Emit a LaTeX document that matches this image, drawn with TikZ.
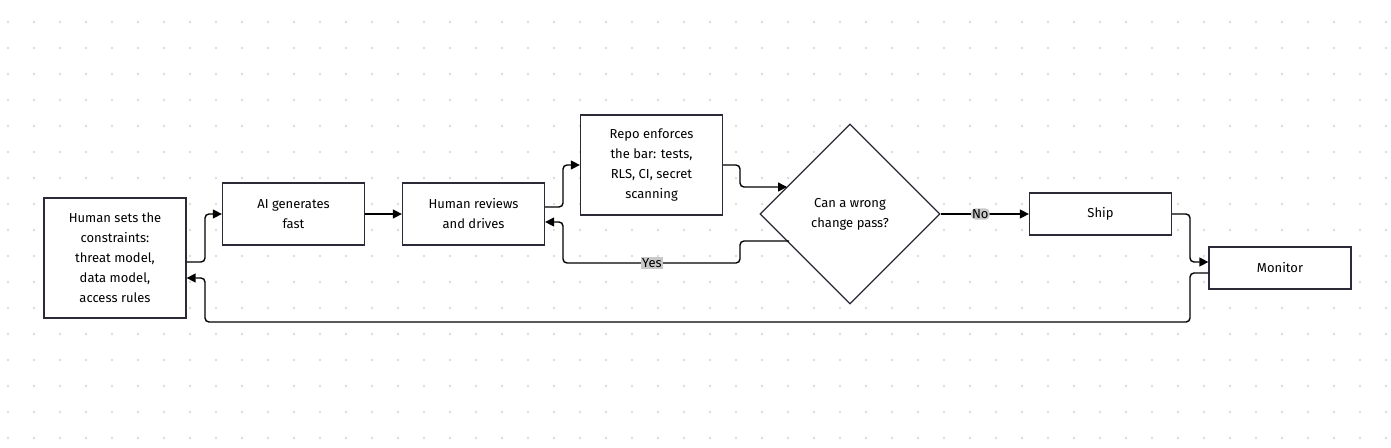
\documentclass[tikz,border=0pt]{standalone}
\usepackage{fontspec}
\setmainfont{Fira Sans}
\usetikzlibrary{shapes.geometric,arrows.meta}
\definecolor{boxline}{HTML}{2B2B38}
\definecolor{dotgrey}{HTML}{DCDCDC}
\definecolor{tagbg}{HTML}{C8C8C8}

\begin{document}
\begin{tikzpicture}[x=1pt,y=-1pt,>={Triangle[length=9pt,width=9pt]}]
  \tikzstyle{stage}=[rectangle,draw=boxline,line width=1.3pt,fill=white,align=center,
inner sep=2pt,font=\fontsize{13}{20}\selectfont,minimum width=142pt]
  \tikzstyle{flow}=[->,draw=black,line width=1.4pt,rounded corners=4pt]
  \tikzstyle{tag}=[fill=tagbg,inner sep=1pt,font=\fontsize{13}{14}\selectfont]
  \useasboundingbox (0,0) rectangle (1391,447);
  \fill[white] (0,0) rectangle (1391,447);
  % dot grid
  \foreach \i in {0,...,53}
    \foreach \j in {0,...,16}
      \fill[dotgrey] (8+26*\i,22+26*\j) circle (1.4pt);

  \node[stage,minimum height=120pt] (H_set) at (115,258)
    {Human sets the\\constraints:\\threat model,\\data model,\\access rules};
  \node[stage,minimum height=62pt] (AI_gen) at (293.5,214) {AI generates\\fast};
  \node[stage,minimum height=62pt] (H_rev) at (473.5,214) {Human reviews\\and drives};
  \node[stage,minimum height=100pt] (Repo) at (651.5,165)
    {Repo enforces\\the bar: tests,\\RLS, CI, secret\\scanning};
  \node[diamond,draw=boxline,line width=1.3pt,fill=white,align=center,minimum width=180pt,
    minimum height=180pt,inner sep=0pt,font=\fontsize{13}{20}\selectfont] (Check) at (850,214)
    {Can a wrong\\change pass?};
  \node[stage,minimum height=42pt] (Ship) at (1100.5,214) {Ship};
  \node[stage,minimum height=42pt] (Mon) at (1280,268) {Monitor};

  \coordinate (c_in) at (787,187);
  \coordinate (c_out) at (789,241);

  \draw[flow] (H_set.east |- 0,262) -| (205,214) -- (AI_gen.west);
  \draw[flow] (AI_gen) -- (H_rev);
  \draw[flow] (H_rev.east |- 0,207) -| (563,165) -- (Repo.west);
  \draw[flow] (Repo.east) -| (740,187) -- (c_in);
  \draw[flow] (c_out) -| (740,263) -| (563,222) -- (H_rev.east |- 0,222);
  \node[tag] (yes) at (652,263) {Yes};
  \draw[flow] (Check.east) -- node[tag,pos=0.45] {No} (Ship.west);
  \draw[flow] (Ship.east) -| (1190,262) -- (Mon.west |- 0,262);
  \draw[flow] (Mon.west |- 0,273) -| (1190,322) -| (205,278) -- (H_set.east |- 0,278);
\end{tikzpicture}
\end{document}
